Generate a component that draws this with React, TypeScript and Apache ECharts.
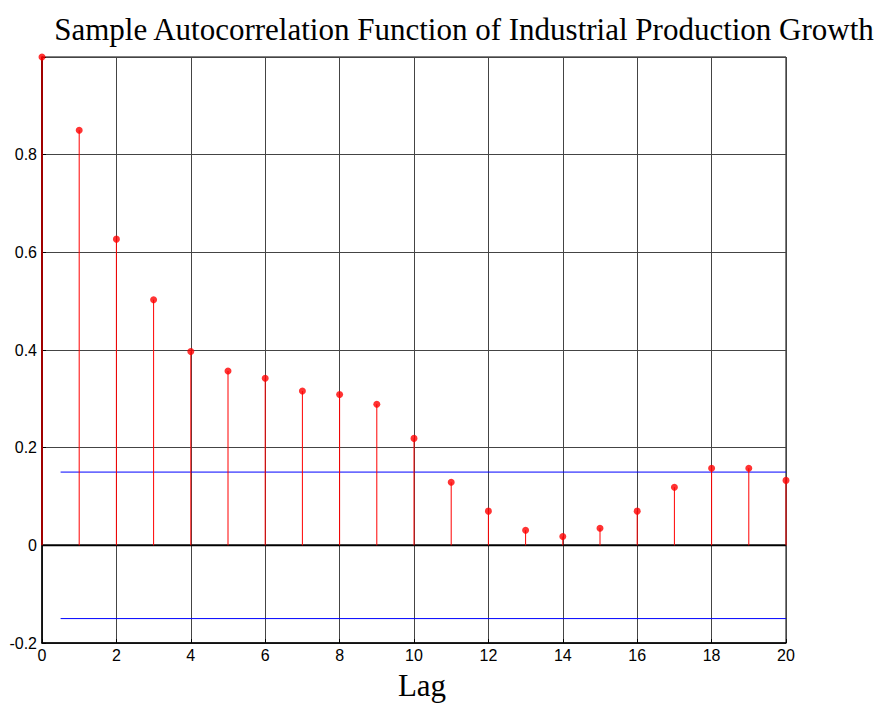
import React, { useEffect, useRef } from "react";
import * as echarts from "echarts";

const lags = [0, 1, 2, 3, 4, 5, 6, 7, 8, 9, 10, 11, 12, 13, 14, 15, 16, 17, 18, 19, 20];
const acf = [1.0, 0.85, 0.627, 0.503, 0.397, 0.357, 0.342, 0.316, 0.309, 0.289, 0.219, 0.129, 0.07, 0.031, 0.018, 0.035, 0.07, 0.119, 0.158, 0.158, 0.133];
const boundUpper = [[0.5, 0.15], [20, 0.15]];
const boundLower = [[0.5, -0.15], [20, -0.15]];
const zeroLine = [[0, 0], [20, 0]];
const titleText = "Sample Autocorrelation Function of Industrial Production Growth";
const xLabel = "Lag";

export default function App() {
  const ref = useRef<HTMLDivElement>(null);
  useEffect(() => {
    if (!ref.current) return;
    const chart = echarts.init(ref.current, null, { renderer: "svg" });
    const points = lags.map((l, i) => [l, acf[i]]);
    chart.setOption({
      animation: false,
      backgroundColor: "#ffffff",
      graphic: [
        {
          type: "text",
          x: 464,
          y: 29,
          style: {
            text: titleText,
            fontFamily: "Liberation Serif",
            fontSize: 31,
            fill: "#000",
            textAlign: "center",
            textVerticalAlign: "middle",
          },
        },
        {
          type: "text",
          x: 422,
          y: 685,
          style: {
            text: xLabel,
            fontFamily: "Liberation Serif",
            fontSize: 31,
            fill: "#000",
            textAlign: "center",
            textVerticalAlign: "middle",
          },
        },
      ],
      grid: { left: 42, right: 90, top: 57, bottom: 60, show: true, borderColor: "#000", borderWidth: 1, backgroundColor: "transparent" },
      xAxis: {
        type: "value",
        min: 0,
        max: 20,
        interval: 2,
        axisLine: { onZero: false, lineStyle: { color: "#000", width: 1.5 } },
        axisTick: { inside: true, length: 4, lineStyle: { color: "#000" } },
        axisLabel: { fontFamily: "Liberation Sans", fontSize: 16, color: "#000", margin: 4 },
        splitLine: { show: true, lineStyle: { color: "#444", width: 1 } },
      },
      yAxis: {
        type: "value",
        min: -0.2,
        max: 1,
        interval: 0.2,
        axisLine: { show: true, onZero: false, lineStyle: { color: "#000", width: 1.5 } },
        axisTick: { show: true, inside: true, length: 4, lineStyle: { color: "#000" } },
        axisLabel: {
          fontFamily: "Liberation Sans",
          fontSize: 16,
          color: "#000",
          margin: 5,
          formatter: (v: number) => (Math.abs(v - 1) < 1e-9 ? "" : String(Math.round(v * 10) / 10)),
        },
        splitLine: { show: true, lineStyle: { color: "#444", width: 1 } },
      },
      series: [
        {
          type: "line",
          data: zeroLine,
          symbol: "none",
          lineStyle: { color: "#000", width: 2 },
          silent: true,
          z: 3,
        },
        {
          type: "line",
          data: boundUpper,
          symbol: "none",
          lineStyle: { color: "#0000ff", width: 1 },
          silent: true,
          z: 3,
        },
        {
          type: "line",
          data: boundLower,
          symbol: "none",
          lineStyle: { color: "#0000ff", width: 1 },
          silent: true,
          z: 3,
        },
        {
          type: "custom",
          data: points,
          z: 4,
          renderItem: (params: any, api: any) => {
            const x = api.value(0);
            const y = api.value(1);
            const p0 = api.coord([x, 0]);
            const p1 = api.coord([x, y]);
            return {
              type: "line",
              shape: { x1: p0[0], y1: p0[1], x2: p1[0], y2: p1[1] },
              style: { stroke: x === 0 ? "#a00000" : "#ff0000", lineWidth: x === 0 ? 2 : 1 },
            };
          },
        },
        {
          type: "scatter",
          data: points,
          symbol: "circle",
          symbolSize: 7,
          itemStyle: { color: "#ff0000" },
          z: 5,
        },
      ],
    });
    return () => chart.dispose();
  }, []);
  return <div ref={ref} style={{ position: "fixed", left: 0, top: 0, width: 876, height: 703 }} />;
}
